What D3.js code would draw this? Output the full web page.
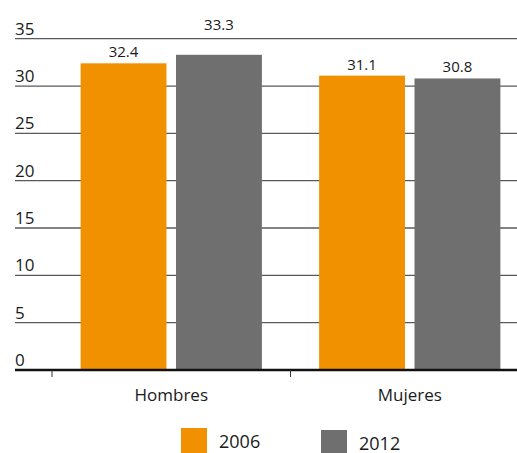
<!DOCTYPE html>
<html><head><meta charset="utf-8">
<script src="https://cdn.jsdelivr.net/npm/d3@7"></script>
<style>body{margin:0;background:#fff}svg{display:block;font-family:"Open Sans",sans-serif}</style>
</head><body>
<svg id="c" width="517" height="453"></svg>
<script>
const categories = ["Hombres", "Mujeres"];
const seriesNames = ["2006", "2012"];
const values2006 = [32.4, 31.1];
const values2012 = [33.3, 30.8];
const yTicks = [0, 5, 10, 15, 20, 25, 30, 35];
const colors = ["#F29100", "#6F6F70"];

const svg = d3.select("#c");
const y = d3.scaleLinear().domain([0, 35]).range([370, 38.7]);
const x = d3.scaleBand().domain(categories).range([52, 529]);
const sub = d3.scaleBand().domain(seriesNames).range([0, x.bandwidth()]).paddingInner(0.1).paddingOuter(0.3);

// gridlines
svg.append("g").selectAll("line").data(yTicks.filter(d => d > 0)).join("line")
  .attr("x1", 15).attr("x2", 517).attr("y1", d => y(d)).attr("y2", d => y(d))
  .attr("stroke", "#5a5a5a").attr("stroke-width", 1.3);

// y labels
svg.append("g").selectAll("text").data(yTicks).join("text")
  .attr("x", 15).attr("y", d => y(d) - 4).attr("font-size", 17).attr("fill", "#1a1a1a")
  .text(d => d);

const topLine = y(35);
const data = categories.map((c, i) => ({c, vals: [values2006[i], values2012[i]]}));
const g = svg.append("g");
data.forEach(d => {
  d.vals.forEach((v, j) => {
    const xx = x(d.c) + sub(seriesNames[j]);
    g.append("rect").attr("x", xx).attr("y", y(v)).attr("width", sub.bandwidth())
      .attr("height", y(0) - y(v)).attr("fill", colors[j]);
    let ly = y(v) - 6;
    if (ly - 11 < topLine + 2) ly = topLine - 9; // lift label above the top gridline
    g.append("text").attr("x", xx + sub.bandwidth() / 2).attr("y", ly)
      .attr("text-anchor", "middle").attr("font-size", 15).attr("fill", "#1a1a1a").text(v.toFixed(1));
  });
});

// x axis
const ax = svg.append("g").attr("transform", "translate(0,370)")
  .call(d3.axisBottom(x).tickSize(0).tickFormat(""));
ax.select(".domain").remove();
svg.append("line").attr("x1", 15).attr("x2", 517).attr("y1", 370).attr("y2", 370)
  .attr("stroke", "#111").attr("stroke-width", 2.5);
svg.append("g").selectAll("line").data(x.domain()).join("line")
  .attr("x1", d => x(d)).attr("x2", d => x(d)).attr("y1", 370).attr("y2", 377)
  .attr("stroke", "#333").attr("stroke-width", 1);
svg.append("g").selectAll("text").data(categories).join("text")
  .attr("x", d => x(d) + x.bandwidth() / 2).attr("y", 401).attr("text-anchor", "middle")
  .attr("font-size", 17).attr("fill", "#1a1a1a").text(d => d);

// legend
const legX = [181, 321];
const lg = svg.append("g");
seriesNames.forEach((s, i) => {
  lg.append("rect").attr("x", legX[i]).attr("y", 428 + i * 2).attr("width", 26).attr("height", 26).attr("fill", colors[i]);
  lg.append("text").attr("x", legX[i] + 38).attr("y", 448 + i * 1.5).attr("font-size", 18).attr("fill", "#1a1a1a").text(s);
});
</script>
</body></html>
